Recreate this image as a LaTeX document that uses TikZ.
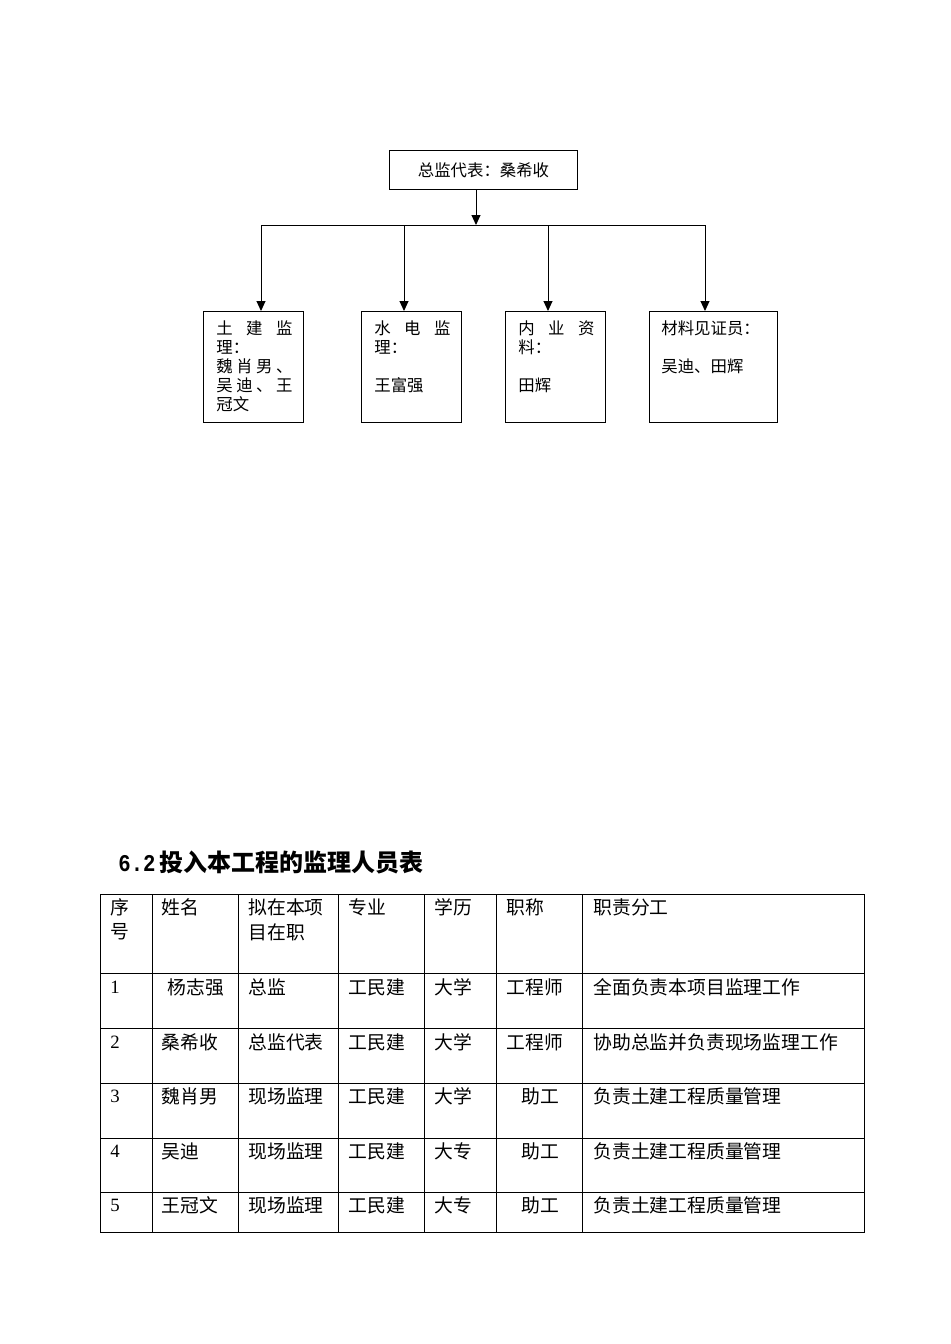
\documentclass[tikz,border=0pt]{standalone}
\usepackage{fontspec}
\usepackage{graphicx}
\setmainfont{Noto Sans CJK SC}
\newfontfamily\num{Liberation Serif}
\newfontfamily\monof{Liberation Mono}
\usetikzlibrary{arrows.meta}
\begin{document}
\begin{tikzpicture}[x=0.5pt,y=-0.5pt,
  line/.style={line width=0.5pt,draw=black},
  arr/.style={line, -{Triangle[length=5pt,width=4.5pt]}},
  box/.style={line,fill=none},
  ct/.style={inner sep=0pt,anchor=west,font=\fontsize{8.2pt}{9.5pt}\selectfont},
  tt/.style={inner sep=0pt,anchor=west,font=\fontsize{9.4pt}{11pt}\selectfont},
  hd/.style={inner sep=0pt,anchor=west,font=\fontsize{12pt}{14pt}\selectfont\bfseries}]
\useasboundingbox (0,0) rectangle (950,1344);
\fill[white] (0,0) rectangle (950,1344);
% org chart
\node[box,minimum width=94pt,minimum height=19.5pt,inner sep=0pt,anchor=north west] (top) at (389,150) {};
\node[ct,anchor=center] (toptext) at (top.center) {总监代表：桑希收};
\coordinate (j) at (476,225);
\coordinate (l) at (261,225);
\coordinate (r) at (705,225);
\coordinate (c2) at (404,225);
\coordinate (c3) at (548,225);
\draw[arr] (top.south -| j) -- (j);
\draw[line] (l) -- (r);
\node[box,minimum width=50pt,minimum height=55.5pt,inner sep=0pt,anchor=north west] (b1) at (203,311) {};
\node[box,minimum width=50pt,minimum height=55.5pt,inner sep=0pt,anchor=north west] (b2) at (361,311) {};
\node[box,minimum width=50pt,minimum height=55.5pt,inner sep=0pt,anchor=north west] (b3) at (505,311) {};
\node[box,minimum width=64pt,minimum height=55.5pt,inner sep=0pt,anchor=north west] (b4) at (649,311) {};
\draw[arr] (l) -- (l |- b1.north);
\draw[arr] (c2) -- (c2 |- b2.north);
\draw[arr] (c3) -- (c3 |- b3.north);
\draw[arr] (r) -- (r |- b4.north);
% box texts
\node[ct] (t11) at (216,328) {\makebox[38pt][s]{土\hfill 建\hfill 监}};
\node[ct] (t12) at (216,347) {理：};
\node[ct] (t13) at (216,366) {\makebox[38pt][s]{魏\hfill 肖\hfill 男\hfill 、}};
\node[ct] (t14) at (216,385) {\makebox[38pt][s]{吴\hfill 迪\hfill 、\hfill 王}};
\node[ct] (t15) at (216,404) {冠文};
\node[ct] (t21) at (374,328) {\makebox[38pt][s]{水\hfill 电\hfill 监}};
\node[ct] (t22) at (374,347) {理：};
\node[ct] (t23) at (374,385) {王富强};
\node[ct] (t31) at (518,328) {\makebox[38pt][s]{内\hfill 业\hfill 资}};
\node[ct] (t32) at (518,347) {料：};
\node[ct] (t33) at (518,385) {田辉};
\node[ct] (t41) at (661,328) {材料见证员：};
\node[ct] (t42) at (661,366) {吴迪、田辉};
% heading
\node[hd] (head) at (118,862) {\scalebox{0.86}[1]{\monof\fontsize{12pt}{14pt}\selectfont\bfseries 6.2}\hspace{2pt}投入本工程的监理人员表};
% table
\draw[line] (100,894) rectangle (864,1232);
\foreach \y in {973,1028,1083,1138,1192} \draw[line] (100,\y) -- (864,\y);
\foreach \x in {152,238,338,424,496,582} \draw[line] (\x,894) -- (\x,1232);
% header
\node[tt] (h1a) at (110,907) {序};
\node[tt] (h1b) at (110,932) {号};
\node[tt] (h2) at (161,907) {姓名};
\node[tt] (h3a) at (248,907) {拟在本项};
\node[tt] (h3b) at (248,932) {目在职};
\node[tt] (h4) at (348,907) {专业};
\node[tt] (h5) at (434,907) {学历};
\node[tt] (h6) at (506,907) {职称};
\node[tt] (h7) at (593,907) {职责分工};
% rows
\node[tt] (r1a) at (110,987) {\num 1};
\node[tt] (r1b) at (167,987) {杨志强};
\node[tt] (r1c) at (248,987) {总监};
\node[tt] (r1d) at (348,987) {工民建};
\node[tt] (r1e) at (434,987) {大学};
\node[tt] (r1f) at (506,987) {工程师};
\node[tt] (r1g) at (593,987) {全面负责本项目监理工作};
\node[tt] (r2a) at (110,1042) {\num 2};
\node[tt] (r2b) at (161,1042) {桑希收};
\node[tt] (r2c) at (248,1042) {总监代表};
\node[tt] (r2d) at (348,1042) {工民建};
\node[tt] (r2e) at (434,1042) {大学};
\node[tt] (r2f) at (506,1042) {工程师};
\node[tt] (r2g) at (593,1042) {协助总监并负责现场监理工作};
\node[tt] (r3a) at (110,1096) {\num 3};
\node[tt] (r3b) at (161,1096) {魏肖男};
\node[tt] (r3c) at (248,1096) {现场监理};
\node[tt] (r3d) at (348,1096) {工民建};
\node[tt] (r3e) at (434,1096) {大学};
\node[tt] (r3f) at (521,1096) {助工};
\node[tt] (r3g) at (593,1096) {负责土建工程质量管理};
\node[tt] (r4a) at (110,1151) {\num 4};
\node[tt] (r4b) at (161,1151) {吴迪};
\node[tt] (r4c) at (248,1151) {现场监理};
\node[tt] (r4d) at (348,1151) {工民建};
\node[tt] (r4e) at (434,1151) {大专};
\node[tt] (r4f) at (521,1151) {助工};
\node[tt] (r4g) at (593,1151) {负责土建工程质量管理};
\node[tt] (r5a) at (110,1205) {\num 5};
\node[tt] (r5b) at (161,1205) {王冠文};
\node[tt] (r5c) at (248,1205) {现场监理};
\node[tt] (r5d) at (348,1205) {工民建};
\node[tt] (r5e) at (434,1205) {大专};
\node[tt] (r5f) at (521,1205) {助工};
\node[tt] (r5g) at (593,1205) {负责土建工程质量管理};
\end{tikzpicture}
\end{document}
